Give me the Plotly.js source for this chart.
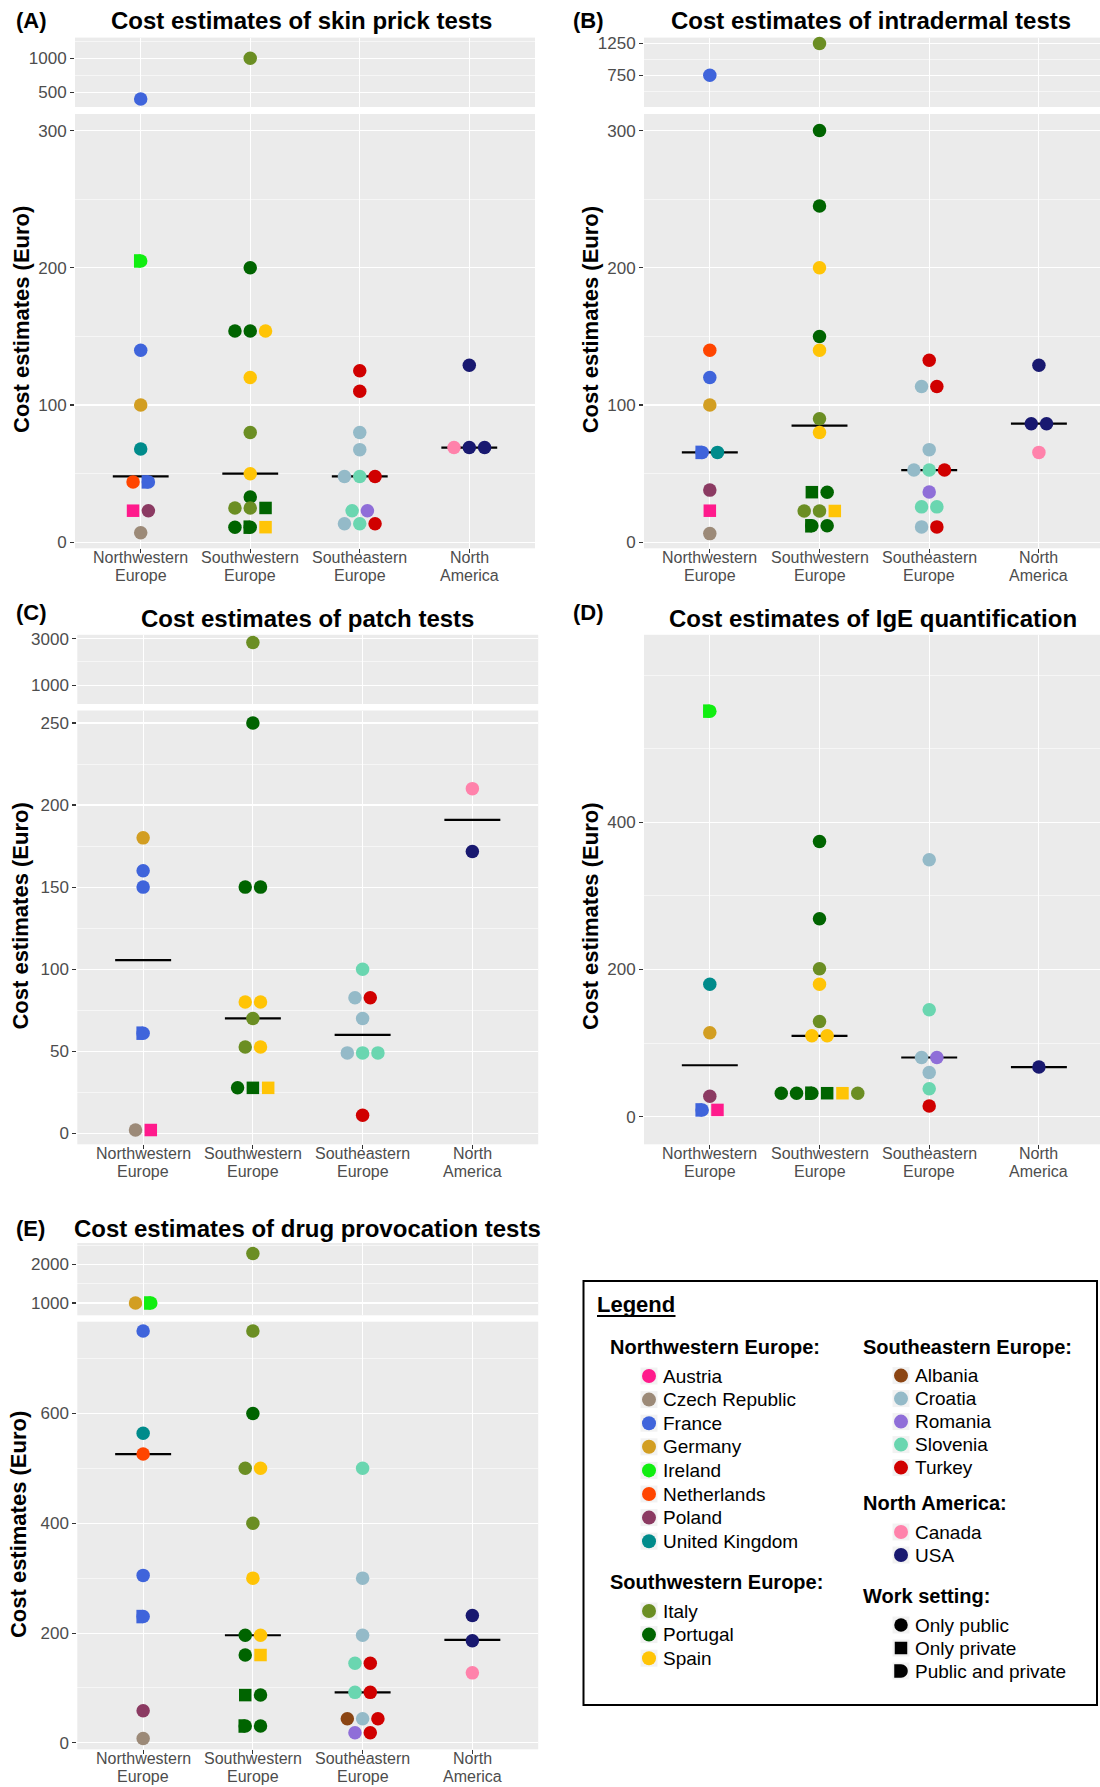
<!DOCTYPE html>
<html>
<head>
<meta charset="utf-8">
<script src="https://cdn.plot.ly/plotly-3.0.1.min.js"></script>
<style>
  html, body { margin: 0; padding: 0; background: #ffffff; }
  #chart { width: 1100px; height: 1787px; }
</style>
</head>
<body>
<div id="chart"></div>
<script>
// ------------------------------------------------------------------
// DATA
// ------------------------------------------------------------------
const REGION_TICK_LINES = [["Northwestern", "Europe"], ["Southwestern", "Europe"], ["Southeastern", "Europe"], ["North", "America"]];

const NW_COUNTRIES = ["Austria", "Czech Republic", "France", "Germany", "Ireland", "Netherlands", "Poland", "United Kingdom"];
const SW_COUNTRIES = ["Italy", "Portugal", "Spain"];
const SE_COUNTRIES = ["Albania", "Croatia", "Romania", "Slovenia", "Turkey"];
const NA_COUNTRIES = ["Canada", "USA"];
const SETTING_CODES = ["P", "V", "B"];
const SETTING_LABELS = ["Only public", "Only private", "Public and private"];

// (A) skin prick tests
const SPT_COUNTRY = ["France", "Ireland", "France", "Germany", "United Kingdom", "Netherlands", "France", "Austria", "Poland", "Czech Republic",
  "Italy", "Portugal", "Portugal", "Portugal", "Spain", "Spain", "Italy", "Spain", "Portugal", "Italy", "Italy", "Portugal", "Portugal", "Portugal", "Spain",
  "Turkey", "Turkey", "Croatia", "Croatia", "Croatia", "Slovenia", "Turkey", "Slovenia", "Romania", "Croatia", "Slovenia", "Turkey",
  "USA", "Canada", "USA", "USA"];
const SPT_SETTING = ["P", "B", "P", "P", "P", "P", "B", "V", "P", "P",
  "P", "P", "P", "P", "P", "P", "P", "P", "P", "P", "P", "V", "P", "B", "V",
  "P", "P", "P", "P", "P", "P", "P", "P", "P", "P", "P", "P",
  "P", "P", "P", "P"];
const SPT_COST = [400, 205, 140, 100, 68, 44, 44, 23, 23, 7,
  1000, 200, 154, 154, 154, 120, 80, 50, 33, 25, 25, 25, 11, 11, 11,
  125, 110, 80, 67.5, 48, 48, 48, 23, 23, 13.5, 13.5, 13.5,
  129, 69, 69, 69];
const SPT_MEDIAN = [48, 50, 48, 69];

// (B) intradermal tests
const IDT_COUNTRY = ["France", "Netherlands", "France", "Germany", "France", "United Kingdom", "Poland", "Austria", "Czech Republic",
  "Italy", "Portugal", "Portugal", "Spain", "Portugal", "Spain", "Italy", "Spain", "Portugal", "Portugal", "Italy", "Italy", "Spain", "Portugal", "Portugal",
  "Turkey", "Croatia", "Turkey", "Croatia", "Croatia", "Slovenia", "Turkey", "Romania", "Slovenia", "Slovenia", "Croatia", "Turkey",
  "USA", "USA", "USA", "Canada"];
const IDT_SETTING = ["P", "P", "P", "P", "B", "P", "P", "V", "P",
  "P", "P", "P", "P", "P", "P", "P", "P", "V", "P", "P", "P", "V", "B", "P",
  "P", "P", "P", "P", "P", "P", "P", "P", "P", "P", "P", "P",
  "P", "P", "P", "P"];
const IDT_COST = [750, 140, 120, 100, 65.5, 65.5, 38, 23, 6.3,
  1250, 300, 245, 200, 150, 140, 90, 80, 36.5, 36.5, 22.8, 22.8, 22.8, 12, 12,
  132.7, 113.5, 113.5, 67.5, 52.6, 52.6, 52.6, 36.7, 25.8, 25.8, 11.2, 11.2,
  129, 86.4, 86.4, 65.5];
const IDT_MEDIAN = [65.5, 85, 52.6, 86.4];

// (C) patch tests
const PT_COUNTRY = ["Germany", "France", "France", "France", "Czech Republic", "Austria",
  "Italy", "Portugal", "Portugal", "Portugal", "Spain", "Spain", "Italy", "Italy", "Spain", "Portugal", "Portugal", "Spain",
  "Slovenia", "Croatia", "Turkey", "Croatia", "Croatia", "Slovenia", "Slovenia", "Turkey",
  "Canada", "USA"];
const PT_SETTING = ["P", "P", "P", "B", "P", "V",
  "P", "P", "P", "P", "P", "P", "P", "P", "P", "P", "V", "V",
  "P", "P", "P", "P", "P", "P", "P", "P",
  "P", "P"];
const PT_COST = [180, 160, 150, 61, 2, 2,
  2830, 250, 150, 150, 80, 80, 70, 52.6, 52.6, 27.7, 27.7, 27.7,
  100, 82.6, 82.6, 70, 49, 49, 49, 11,
  210, 171.7];
const PT_MEDIAN = [105.5, 70, 60, 191];

// (D) IgE quantification
const IGE_COUNTRY = ["Ireland", "United Kingdom", "Germany", "Poland", "France", "Austria",
  "Portugal", "Portugal", "Italy", "Spain", "Italy", "Spain", "Spain", "Portugal", "Portugal", "Portugal", "Portugal", "Spain", "Italy",
  "Croatia", "Slovenia", "Croatia", "Romania", "Croatia", "Slovenia", "Turkey",
  "USA"];
const IGE_SETTING = ["B", "P", "P", "P", "B", "V",
  "P", "P", "P", "P", "P", "P", "P", "P", "P", "B", "V", "V", "P",
  "P", "P", "P", "P", "P", "P", "P",
  "P"];
const IGE_COST = [551, 180, 114, 28, 9.3, 9.3,
  374, 269, 201, 180, 129.5, 110, 110, 32, 32, 32, 32, 32, 32,
  349, 145.5, 80.5, 80.5, 60, 38, 14.5,
  67.5];
const IGE_MEDIAN = [70, 110, 80.5, 67.5];

// (E) drug provocation tests
const DPT_COUNTRY = ["Germany", "Ireland", "France", "United Kingdom", "Netherlands", "France", "France", "Poland", "Czech Republic",
  "Italy", "Italy", "Portugal", "Italy", "Spain", "Italy", "Spain", "Portugal", "Spain", "Portugal", "Spain", "Portugal", "Portugal", "Portugal", "Portugal",
  "Slovenia", "Croatia", "Croatia", "Slovenia", "Turkey", "Slovenia", "Turkey", "Albania", "Croatia", "Turkey", "Romania", "Turkey",
  "USA", "USA", "Canada"];
const DPT_SETTING = ["P", "B", "P", "P", "P", "P", "B", "P", "P",
  "P", "P", "P", "P", "P", "P", "P", "P", "P", "P", "V", "V", "P", "B", "P",
  "P", "P", "P", "P", "P", "P", "P", "P", "P", "P", "P", "P",
  "P", "P", "P"];
const DPT_COST = [1000, 1000, 750, 564, 526, 305, 230, 58.6, 8,
  2280, 750, 600, 500, 500, 400, 300, 196, 196, 160, 160, 87, 87, 30.7, 30.7,
  500, 300, 196, 145, 145, 92, 92, 44, 44, 44, 18.4, 18.4,
  232, 186, 127.5];
const DPT_MEDIAN = [526, 196, 92, 187.5];

// ------------------------------------------------------------------
// STYLE / LAYOUT
// ------------------------------------------------------------------
const FONT = "Liberation Sans, Arial, Helvetica, sans-serif";
const W = 1100, H = 1787;
const px2x = p => p / W;
const px2y = p => 1 - p / H;

const COUNTRY_COLOR = {
  "Austria": "#FF1A8C", "Czech Republic": "#9C8A78", "France": "#3F64DB", "Germany": "#D29E22",
  "Ireland": "#11EE11", "Netherlands": "#FF4500", "Poland": "#8B3A62", "United Kingdom": "#008B8B",
  "Italy": "#6B8E23", "Portugal": "#006400", "Spain": "#FFC406",
  "Albania": "#8B4513", "Croatia": "#94BAC8", "Romania": "#8F6ED8", "Slovenia": "#6AD6B0", "Turkey": "#D00000",
  "Canada": "#FF82AB", "USA": "#191970"
};
const REGION_COUNTRIES = [NW_COUNTRIES, SW_COUNTRIES, SE_COUNTRIES, NA_COUNTRIES];
const regionOf = c => REGION_COUNTRIES.findIndex(list => list.includes(c));

const MS = 13.5;      // circle diameter (px)
const SQ = 12.5;      // square side (px)
const STEP_PX = 15.3; // horizontal dodge between equal values (px)
const MEDIAN_HALF = 0.255;
const TICK_FONT = 16, TICK_LINE1 = 9, TICK_LINE_GAP = 18;

const PANELS = [
  { tag: "(A)", title: "Cost estimates of skin prick tests",
    data: [SPT_COUNTRY, SPT_SETTING, SPT_COST, SPT_MEDIAN],
    x: [75, 535], xr: [0.4, 4.6],
    lower: { y: [114, 548.3], r: [-4.4, 312.1], dtick: 100, minor: 50 },
    upper: { y: [37.6, 107], r: [282, 1305], tickvals: [500, 1000], minorvals: [750, 1250] },
    titleXY: [301, 20.7], tagXY: [16, 20.7], ytitleXY: [21, 320] },
  { tag: "(B)", title: "Cost estimates of intradermal tests",
    data: [IDT_COUNTRY, IDT_SETTING, IDT_COST, IDT_MEDIAN],
    x: [644, 1100], xr: [0.4, 4.557],
    lower: { y: [114, 548.3], r: [-4.4, 312.1], dtick: 100, minor: 50 },
    upper: { y: [37.6, 107], r: [252, 1343], tickvals: [750, 1250], minorvals: [500, 1000] },
    titleXY: [871, 20.7], tagXY: [573, 20.7], ytitleXY: [590.3, 320] },
  { tag: "(C)", title: "Cost estimates of patch tests",
    data: [PT_COUNTRY, PT_SETTING, PT_COST, PT_MEDIAN],
    x: [77.3, 538.2], xr: [0.4, 4.6],
    lower: { y: [710.5, 1144.3], r: [-6.7, 257.6], dtick: 50, minor: 25 },
    upper: { y: [634.8, 704], r: [199, 3163], tickvals: [1000, 3000], minorvals: [2000] },
    titleXY: [307, 618.5], tagXY: [16, 612], ytitleXY: [21, 916.6] },
  { tag: "(D)", title: "Cost estimates of IgE quantification",
    data: [IGE_COUNTRY, IGE_SETTING, IGE_COST, IGE_MEDIAN],
    x: [644, 1100], xr: [0.4, 4.557],
    lower: { y: [634.8, 1144.3], r: [-37.4, 654.7], tickvals: [0, 200, 400], minorvals: [100, 300, 500, 600] },
    upper: null,
    titleXY: [873, 618.5], tagXY: [573, 612], ytitleXY: [590.3, 916.6] },
  { tag: "(E)", title: "Cost estimates of drug provocation tests",
    data: [DPT_COUNTRY, DPT_SETTING, DPT_COST, DPT_MEDIAN],
    x: [77.3, 538.2], xr: [0.4, 4.6],
    lower: { y: [1321.7, 1749.3], r: [-11.7, 767], dtick: 200, minor: 100 },
    upper: { y: [1243, 1315.3], r: [681, 2554], dtick: 1000, minor: 500 },
    titleXY: [307, 1228], tagXY: [16, 1228], ytitleXY: [19.3, 1524.8] }
];

const layout = {
  width: W, height: H,
  margin: { l: 0, r: 0, t: 0, b: 0 },
  paper_bgcolor: "#ffffff",
  plot_bgcolor: "#EBEBEB",
  showlegend: false,
  font: { family: FONT },
  annotations: [],
  shapes: []
};
const traces = [];
let axN = 1;

function ann(o) {
  return Object.assign({ xref: "paper", yref: "paper", showarrow: false, borderpad: 0, borderwidth: 0 }, o);
}

PANELS.forEach(P => {
  const [countries, settings, costs, medians] = P.data;
  const pxPerUnit = (P.x[1] - P.x[0]) / (P.xr[1] - P.xr[0]);
  const step = STEP_PX / pxPerUnit;
  const dShift = (MS / 4) / pxPerUnit;
  const region = countries.map(regionOf);

  // dodge equal values inside a region (computed)
  const groups = {};
  costs.forEach((c, i) => { const k = region[i] + "|" + c; (groups[k] = groups[k] || []).push(i); });
  const xpos = new Array(costs.length);
  Object.values(groups).forEach(g => g.forEach((i, j) => { xpos[i] = region[i] + 1 + (j - (g.length - 1) / 2) * step; }));

  const parts = [["lower", P.lower]];
  if (P.upper) parts.push(["upper", P.upper]);
  const ids = {};
  parts.forEach(([name, cfg]) => {
    const n = axN++;
    const xa = n === 1 ? "x" : "x" + n, ya = n === 1 ? "y" : "y" + n;
    const xk = n === 1 ? "xaxis" : "xaxis" + n, yk = n === 1 ? "yaxis" : "yaxis" + n;
    ids[name] = { xa, ya };
    layout[xk] = {
      domain: [px2x(P.x[0]), px2x(P.x[1])], range: P.xr, anchor: ya,
      tickmode: "array", tickvals: [1, 2, 3, 4], showticklabels: false,
      ticks: name === "lower" ? "outside" : "", ticklen: 4, tickwidth: 1.1, tickcolor: "#333333",
      showgrid: true, gridcolor: "#ffffff", gridwidth: 1.1,
      zeroline: false, showline: false, fixedrange: true
    };
    const ya_cfg = {
      domain: [px2y(cfg.y[1]), px2y(cfg.y[0])], range: cfg.r, anchor: xa,
      ticks: "outside", ticklen: 4, tickwidth: 1.1, tickcolor: "#333333",
      tickfont: { size: 17, color: "#4D4D4D", family: FONT },
      showgrid: true, gridcolor: "#ffffff", gridwidth: 1.1,
      zeroline: false, showline: false, fixedrange: true
    };
    const minorBase = { showgrid: true, gridcolor: "#ffffff", gridwidth: 0.55, ticks: "" };
    if (cfg.dtick) {
      ya_cfg.tickmode = "linear"; ya_cfg.tick0 = 0; ya_cfg.dtick = cfg.dtick;
      ya_cfg.minor = Object.assign({ tick0: 0, dtick: cfg.minor }, minorBase);
    } else {
      ya_cfg.tickmode = "array"; ya_cfg.tickvals = cfg.tickvals;
      ya_cfg.minor = Object.assign({ tickmode: "array", tickvals: cfg.minorvals }, minorBase);
    }
    layout[yk] = ya_cfg;
  });

  // median lines
  const mx = [], my = [];
  medians.forEach((m, i) => { mx.push(i + 1 - MEDIAN_HALF, i + 1 + MEDIAN_HALF, null); my.push(m, m, null); });
  traces.push({ type: "scatter", mode: "lines", x: mx, y: my, xaxis: ids.lower.xa, yaxis: ids.lower.ya,
    line: { color: "#000000", width: 2.2 }, hoverinfo: "skip", cliponaxis: false });

  // points
  const lowerTop = P.lower.r[1];
  parts.forEach(([name]) => {
    const idx = costs.map((c, i) => i).filter(i => name === "upper" ? costs[i] > lowerTop : costs[i] <= lowerTop);
    const base = { type: "scatter", mode: "markers", xaxis: ids[name].xa, yaxis: ids[name].ya, cliponaxis: false, hoverinfo: "skip" };
    const col = list => list.map(i => COUNTRY_COLOR[countries[i]]);
    const both = idx.filter(i => settings[i] === "B");
    const circ = idx.filter(i => settings[i] !== "V");
    const sq = idx.filter(i => settings[i] === "V");
    if (both.length) traces.push(Object.assign({}, base, {
      x: both.map(i => xpos[i] - dShift), y: both.map(i => costs[i]),
      marker: { symbol: "line-ns", size: MS / 1.4, color: col(both), line: { width: MS / 2, color: col(both) } }
    }));
    if (circ.length) traces.push(Object.assign({}, base, {
      x: circ.map(i => xpos[i]), y: circ.map(i => costs[i]),
      marker: { symbol: "circle", size: MS, color: col(circ), line: { width: 0 } }
    }));
    if (sq.length) traces.push(Object.assign({}, base, {
      x: sq.map(i => xpos[i]), y: sq.map(i => costs[i]),
      marker: { symbol: "square", size: SQ, color: col(sq), line: { width: 0 } }
    }));
  });

  // x tick labels (two tight lines)
  const bottom = P.lower.y[1];
  REGION_TICK_LINES.forEach((lines, i) => {
    lines.forEach((t, k) => {
      layout.annotations.push(ann({ xref: ids.lower.xa, x: i + 1, y: px2y(bottom + TICK_LINE1 + k * TICK_LINE_GAP),
        xanchor: "center", yanchor: "middle", text: t, font: { size: TICK_FONT, color: "#4D4D4D", family: FONT } }));
    });
  });

  // titles
  layout.annotations.push(ann({ x: px2x(P.titleXY[0]), y: px2y(P.titleXY[1]), xanchor: "center", yanchor: "middle",
    text: "<b>" + P.title + "</b>", font: { size: 24, color: "#000000", family: FONT } }));
  layout.annotations.push(ann({ x: px2x(P.tagXY[0]), y: px2y(P.tagXY[1]), xanchor: "left", yanchor: "middle",
    text: "<b>" + P.tag + "</b>", font: { size: 22, color: "#000000", family: FONT } }));
  layout.annotations.push(ann({ x: px2x(P.ytitleXY[0]), y: px2y(P.ytitleXY[1]), xanchor: "center", yanchor: "middle",
    textangle: -90, text: "<b>Cost estimates (Euro)</b>", font: { size: 22, color: "#000000", family: FONT } }));
});

// ------------------------------------------------------------------
// LEGEND (box drawn with shapes + annotations)
// ------------------------------------------------------------------
const LEGEND_GROUPS = [
  { title: "Northwestern Europe:", items: NW_COUNTRIES },
  { title: "Southwestern Europe:", items: SW_COUNTRIES },
  { title: "Southeastern Europe:", items: SE_COUNTRIES },
  { title: "North America:", items: NA_COUNTRIES },
  { title: "Work setting:", items: SETTING_LABELS }
];
const LEGEND_POS = [{ col: 0, y: 1347 }, { col: 0, y: 1582 }, { col: 1, y: 1346.6 }, { col: 1, y: 1503 }, { col: 1, y: 1596 }];
const LEGEND_COLS = [{ title: 610, key: 649, text: 663, step: 23.6 }, { title: 863, key: 901, text: 915, step: 23.0 }];
const LEG_FIRST = 29;

layout.shapes.push({ type: "rect", xref: "paper", yref: "paper", x0: px2x(583.5), x1: px2x(1097), y0: px2y(1705), y1: px2y(1281),
  line: { color: "#000000", width: 2 }, fillcolor: "rgba(0,0,0,0)" });
layout.annotations.push(ann({ x: px2x(597), y: px2y(1304), xanchor: "left", yanchor: "middle",
  text: "<b>Legend</b>", font: { size: 22, color: "#000000", family: FONT } }));
layout.shapes.push({ type: "line", xref: "paper", yref: "paper", x0: px2x(597), x1: px2x(675.5), y0: px2y(1316), y1: px2y(1316),
  line: { color: "#000000", width: 2 } });

function pixShape(type, cx, cy, half, color, path) {
  const s = { type: type, xref: "paper", yref: "paper", xsizemode: "pixel", ysizemode: "pixel",
    xanchor: px2x(cx), yanchor: px2y(cy), fillcolor: color, line: { width: 0 }, layer: "above" };
  if (type === "path") s.path = path;
  else { s.x0 = -half; s.x1 = half; s.y0 = -half; s.y1 = half; }
  return s;
}
const r = MS / 2, k = 0.5523 * r;
const D_PATH = `M${-r},${-r} L0,${-r} C${k},${-r} ${r},${-k} ${r},0 C${r},${k} ${k},${r} 0,${r} L${-r},${r} Z`;

LEGEND_GROUPS.forEach((g, gi) => {
  const pos = LEGEND_POS[gi], col = LEGEND_COLS[pos.col];
  layout.annotations.push(ann({ x: px2x(col.title), y: px2y(pos.y), xanchor: "left", yanchor: "middle",
    text: "<b>" + g.title + "</b>", font: { size: 20, color: "#000000", family: FONT } }));
  g.items.forEach((item, j) => {
    const y = pos.y + LEG_FIRST + j * col.step;
    layout.shapes.push(pixShape("rect", col.key, y, 8.5, "#F2F2F2"));
    if (g.items === SETTING_LABELS) {
      const code = SETTING_CODES[j];
      if (code === "P") layout.shapes.push(pixShape("circle", col.key, y, r, "#000000"));
      else if (code === "V") layout.shapes.push(pixShape("rect", col.key, y, SQ / 2, "#000000"));
      else layout.shapes.push(pixShape("path", col.key, y, r, "#000000", D_PATH));
    } else {
      layout.shapes.push(pixShape("circle", col.key, y, 7, COUNTRY_COLOR[item]));
    }
    layout.annotations.push(ann({ x: px2x(col.text), y: px2y(y), xanchor: "left", yanchor: "middle",
      text: item, font: { size: 19, color: "#000000", family: FONT } }));
  });
});

Plotly.newPlot("chart", traces, layout, { staticPlot: true, displayModeBar: false, responsive: false });
</script>
</body>
</html>
